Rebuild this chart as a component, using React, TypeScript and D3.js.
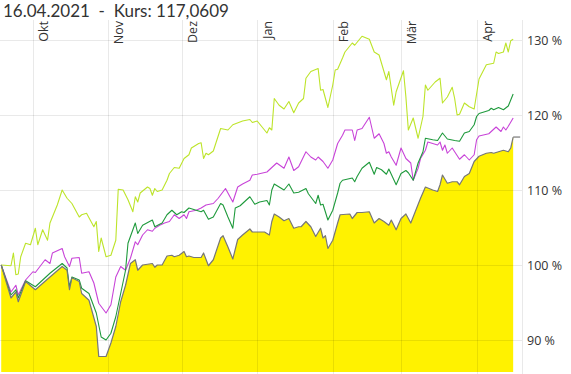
import React, { useRef, useEffect } from 'react'
import * as d3 from 'd3'

// day offsets count from 17.09.2020
const startDay = new Date(2020, 8, 17)

const fundDays = [1, 5, 7, 8, 11, 15, 21, 26, 28, 29, 30, 33, 34, 37, 40, 41, 44, 46, 48, 50, 52, 54, 56, 57, 59, 63, 64, 65, 67, 69, 71, 72, 74, 76, 77, 78, 80, 83, 84, 86, 88, 91, 92, 94, 96, 98, 100, 103, 104, 106, 109, 111, 112, 113, 115, 117, 119, 121, 123, 124, 126, 128, 130, 132, 133, 134, 135, 137, 139, 140, 144, 145, 147, 149, 152, 154, 156, 158, 160, 161, 163, 165, 167, 169, 173, 175, 178, 180, 181, 182, 184, 186, 188, 189, 191, 193, 195, 197, 200, 202, 203, 205, 207, 208, 209, 210, 211]
const fundValues = [100.0, 95.6, 96.4, 95.1, 97.8, 96.7, 98.4, 99.8, 99.3, 96.7, 98.3, 97.8, 96.2, 95.3, 91.8, 87.8, 87.8, 89.6, 91.8, 95.1, 97.3, 100.2, 100.7, 99.3, 100.0, 100.2, 99.7, 100.0, 100.0, 101.2, 101.3, 101.1, 101.3, 101.8, 101.1, 101.2, 101.0, 101.0, 101.6, 99.9, 100.7, 103.6, 103.9, 102.4, 100.8, 103.4, 104.0, 104.8, 104.4, 104.4, 104.4, 104.0, 105.8, 106.8, 106.4, 105.9, 106.2, 104.9, 105.1, 105.1, 105.8, 105.1, 103.8, 104.9, 103.6, 103.9, 102.2, 103.3, 105.6, 106.7, 106.8, 106.2, 107.0, 107.0, 107.1, 105.6, 106.2, 105.8, 105.3, 106.0, 104.7, 106.2, 106.8, 105.6, 108.9, 110.4, 110.0, 109.8, 110.7, 112.0, 110.9, 111.1, 111.1, 110.7, 111.8, 112.2, 113.8, 114.5, 114.9, 115.0, 114.9, 115.1, 115.3, 115.2, 115.1, 115.6, 117.0609]

const greenDays = [1, 5, 7, 8, 11, 15, 21, 26, 28, 29, 30, 33, 34, 37, 40, 42, 44, 46, 48, 50, 52, 53, 56, 57, 59, 63, 64, 67, 69, 71, 73, 75, 76, 78, 81, 83, 84, 86, 88, 91, 92, 94, 96, 97, 99, 103, 105, 107, 110, 111, 112, 113, 115, 117, 119, 121, 123, 126, 127, 130, 131, 132, 133, 135, 137, 139, 140, 141, 145, 146, 147, 149, 152, 154, 155, 157, 159, 160, 163, 165, 167, 168, 170, 172, 174, 175, 178, 180, 181, 182, 184, 187, 189, 191, 193, 195, 196, 197, 201, 202, 203, 205, 207, 209, 211]
const greenValues = [100.0, 96.0, 96.7, 95.6, 97.9, 97.1, 98.9, 100.2, 99.6, 97.1, 98.4, 98.0, 96.9, 96.2, 93.6, 90.4, 90.0, 90.9, 93.1, 96.2, 99.3, 102.9, 105.6, 104.2, 105.3, 106.0, 105.1, 105.6, 106.7, 107.3, 106.7, 107.1, 107.0, 107.6, 107.3, 107.1, 107.3, 106.1, 106.4, 108.2, 108.0, 106.4, 104.9, 107.6, 107.9, 109.1, 108.1, 108.4, 108.6, 108.0, 110.0, 110.8, 110.4, 110.0, 110.8, 109.6, 109.7, 110.2, 109.5, 108.2, 109.3, 108.0, 108.1, 106.0, 107.3, 109.6, 110.9, 111.3, 111.6, 111.1, 111.8, 112.9, 113.7, 112.1, 113.0, 112.7, 112.1, 112.8, 110.7, 112.2, 112.6, 112.3, 111.3, 113.6, 115.1, 116.9, 116.7, 116.6, 117.1, 117.6, 116.8, 116.6, 116.5, 117.6, 117.8, 118.7, 119.8, 120.2, 120.6, 120.9, 120.7, 121.0, 120.7, 121.2, 122.8]

const purpleDays = [1, 5, 7, 8, 11, 14, 15, 19, 21, 22, 26, 27, 29, 30, 33, 34, 37, 39, 41, 44, 46, 48, 50, 52, 54, 56, 57, 59, 61, 63, 64, 66, 68, 70, 72, 74, 76, 77, 78, 81, 83, 85, 88, 90, 93, 96, 98, 100, 103, 104, 106, 110, 114, 117, 119, 121, 123, 126, 128, 130, 131, 133, 135, 137, 139, 141, 142, 145, 146, 147, 149, 152, 154, 156, 158, 159, 160, 161, 163, 165, 167, 169, 170, 172, 173, 175, 176, 178, 180, 181, 182, 183, 184, 186, 189, 191, 193, 195, 196, 197, 201, 204, 206, 207, 208, 209, 211]
const purpleValues = [100.0, 96.4, 97.3, 96.0, 98.0, 99.1, 99.0, 100.7, 100.2, 101.6, 102.2, 101.1, 99.8, 100.9, 101.0, 98.9, 99.1, 97.6, 94.9, 93.6, 94.7, 98.4, 99.8, 99.3, 100.9, 103.1, 102.7, 104.0, 104.7, 104.5, 104.9, 105.3, 105.6, 105.8, 106.7, 106.2, 106.7, 106.2, 107.1, 107.3, 107.6, 108.0, 108.2, 108.9, 110.2, 108.4, 110.4, 110.8, 111.3, 112.0, 112.1, 112.4, 113.6, 112.9, 114.4, 112.6, 113.1, 115.1, 114.4, 114.0, 114.4, 113.8, 112.9, 114.0, 116.2, 117.3, 118.0, 118.0, 116.6, 118.0, 118.2, 119.7, 116.9, 117.5, 116.2, 114.9, 115.1, 114.4, 113.3, 115.6, 114.2, 113.6, 111.3, 112.9, 114.2, 115.3, 116.4, 116.2, 116.0, 116.4, 115.3, 116.0, 114.9, 115.6, 114.1, 114.7, 114.0, 114.7, 116.7, 117.2, 117.5, 118.4, 117.8, 118.4, 118.0, 118.5, 119.6]

const limeDays = [1, 5, 6, 7, 8, 9, 11, 13, 15, 16, 18, 20, 21, 24, 26, 28, 30, 33, 34, 36, 39, 40, 41, 42, 44, 46, 48, 49, 51, 53, 55, 56, 57, 58, 61, 62, 63, 64, 65, 67, 69, 70, 72, 74, 76, 78, 79, 82, 83, 84, 85, 86, 88, 91, 94, 96, 100, 103, 104, 106, 108, 110, 111, 112, 113, 115, 117, 119, 121, 123, 125, 126, 128, 131, 132, 133, 135, 137, 138, 139, 141, 142, 145, 146, 149, 152, 154, 156, 159, 160, 162, 163, 166, 167, 168, 170, 172, 174, 175, 176, 179, 181, 182, 184, 186, 187, 188, 189, 191, 193, 195, 197, 200, 203, 204, 205, 207, 208, 209, 210, 211]
const limeValues = [100.0, 99.9, 101.6, 98.7, 98.8, 101.1, 102.9, 102.7, 104.9, 102.7, 104.7, 103.3, 105.6, 108.0, 110.0, 108.9, 108.2, 106.4, 106.7, 106.9, 105.1, 105.8, 101.8, 103.6, 101.1, 101.3, 103.3, 110.1, 110.0, 108.7, 107.1, 109.1, 108.4, 109.6, 110.4, 110.2, 109.3, 110.2, 109.8, 110.0, 111.3, 112.2, 113.0, 112.9, 114.2, 114.7, 115.6, 116.2, 116.3, 114.2, 114.9, 114.7, 115.2, 118.2, 118.0, 118.7, 119.2, 119.4, 119.0, 119.2, 118.4, 117.6, 118.3, 118.0, 122.2, 121.3, 120.8, 121.8, 120.3, 121.6, 122.2, 124.9, 125.8, 126.2, 123.3, 123.4, 121.0, 124.0, 126.0, 126.1, 127.6, 128.4, 129.6, 129.3, 130.5, 130.1, 128.4, 128.0, 124.7, 125.8, 121.3, 123.1, 125.9, 122.4, 118.0, 119.6, 116.9, 119.8, 124.0, 123.3, 124.4, 124.9, 121.6, 122.4, 123.7, 122.2, 120.0, 120.1, 121.6, 121.1, 120.8, 124.8, 126.7, 126.9, 128.4, 128.2, 128.4, 129.6, 128.4, 129.9, 130.1]

const monthNames = ['Okt', 'Nov', 'Dez', 'Jan', 'Feb', 'Mär', 'Apr']
const yTicks = [90, 100, 110, 120, 130]
const title = '16.04.2021\u00a0\u00a0-\u00a0\u00a0Kurs: 117,0609'

function Chart() {
  const svgRef = useRef(null)

  useEffect(() => {
    const svg = d3.select(svgRef.current)
    svg.selectAll('*').remove()

    const plotRight = 522
    const plotBottom = 372
    const gridColor = 'rgba(0,0,0,0.085)'
    const font = "'Open Sans', sans-serif"

    const x = d3.scaleTime()
      .domain([new Date(2020, 8, 17, 12), new Date(2021, 3, 19, 15)])
      .range([0, plotRight])
    const y = d3.scaleLinear().domain([90, 130]).range([340, 40])

    const toPoints = (days, values) =>
      days.map((d, i) => ({ date: d3.timeDay.offset(startDay, d), value: values[i] }))

    const fund = toPoints(fundDays, fundValues)

    const area = d3.area()
      .x(d => x(d.date))
      .y0(plotBottom)
      .y1(d => y(d.value))
    const line = d3.line()
      .x(d => x(d.date))
      .y(d => y(d.value))

    svg.append('path')
      .datum(fund)
      .attr('d', area)
      .attr('fill', '#fff200')

    // grid
    const months = d3.timeMonth.range(new Date(2020, 9, 1), new Date(2021, 3, 2))
    const grid = svg.append('g').attr('stroke', gridColor).attr('stroke-width', 1)
    grid.selectAll('.h')
      .data(yTicks)
      .join('line')
      .attr('x1', 0)
      .attr('x2', plotRight)
      .attr('y1', d => Math.round(y(d)) + 0.5)
      .attr('y2', d => Math.round(y(d)) + 0.5)
    grid.selectAll('.v')
      .data(months)
      .join('line')
      .attr('x1', d => Math.round(x(d)) + 0.5)
      .attr('x2', d => Math.round(x(d)) + 0.5)
      .attr('y1', 20)
      .attr('y2', 374)
    grid.append('line')
      .attr('x1', plotRight + 0.5)
      .attr('x2', plotRight + 0.5)
      .attr('y1', 20)
      .attr('y2', 374)

    const series = [
      { data: toPoints(limeDays, limeValues), color: '#bde42a', width: 1.1 },
      { data: toPoints(purpleDays, purpleValues), color: '#c844d8', width: 1.1 },
      { data: toPoints(greenDays, greenValues), color: '#1f9a3c', width: 1.1 },
      { data: fund, color: '#777777', width: 1.2 },
    ]
    svg.append('g')
      .selectAll('path')
      .data(series)
      .join('path')
      .attr('d', d => line(d.data))
      .attr('fill', 'none')
      .attr('stroke', d => d.color)
      .attr('stroke-width', d => d.width)
      .attr('stroke-linejoin', 'round')

    // last value marker
    const last = fund[fund.length - 1]
    svg.append('line')
      .attr('x1', x(last.date))
      .attr('x2', x(last.date) + 7)
      .attr('y1', y(last.value))
      .attr('y2', y(last.value))
      .attr('stroke', '#777777')
      .attr('stroke-width', 1.2)

    svg.append('g')
      .selectAll('text')
      .data(yTicks)
      .join('text')
      .attr('x', plotRight + 5)
      .attr('y', d => y(d) + 4.5)
      .attr('font-family', font)
      .attr('font-size', 12.5)
      .attr('fill', '#333')
      .text(d => `${d} %`)

    svg.append('g')
      .selectAll('text')
      .data(months)
      .join('text')
      .attr('transform', d => `translate(${Math.round(x(d)) + 15},21) rotate(-90)`)
      .attr('text-anchor', 'end')
      .attr('font-family', font)
      .attr('font-size', 12.5)
      .attr('fill', '#333')
      .text((d, i) => monthNames[i])

    svg.append('text')
      .attr('x', 3)
      .attr('y', 17)
      .attr('font-family', "Lato, sans-serif")
      .attr('font-size', 17)
      .attr('fill', '#333')
      .text(title)
  }, [])

  return (
    <svg ref={svgRef} width={571} height={374}
      style={{ position: 'absolute', left: 0, top: 0, display: 'block' }} />
  )
}

export default function App() {
  return <Chart />
}
